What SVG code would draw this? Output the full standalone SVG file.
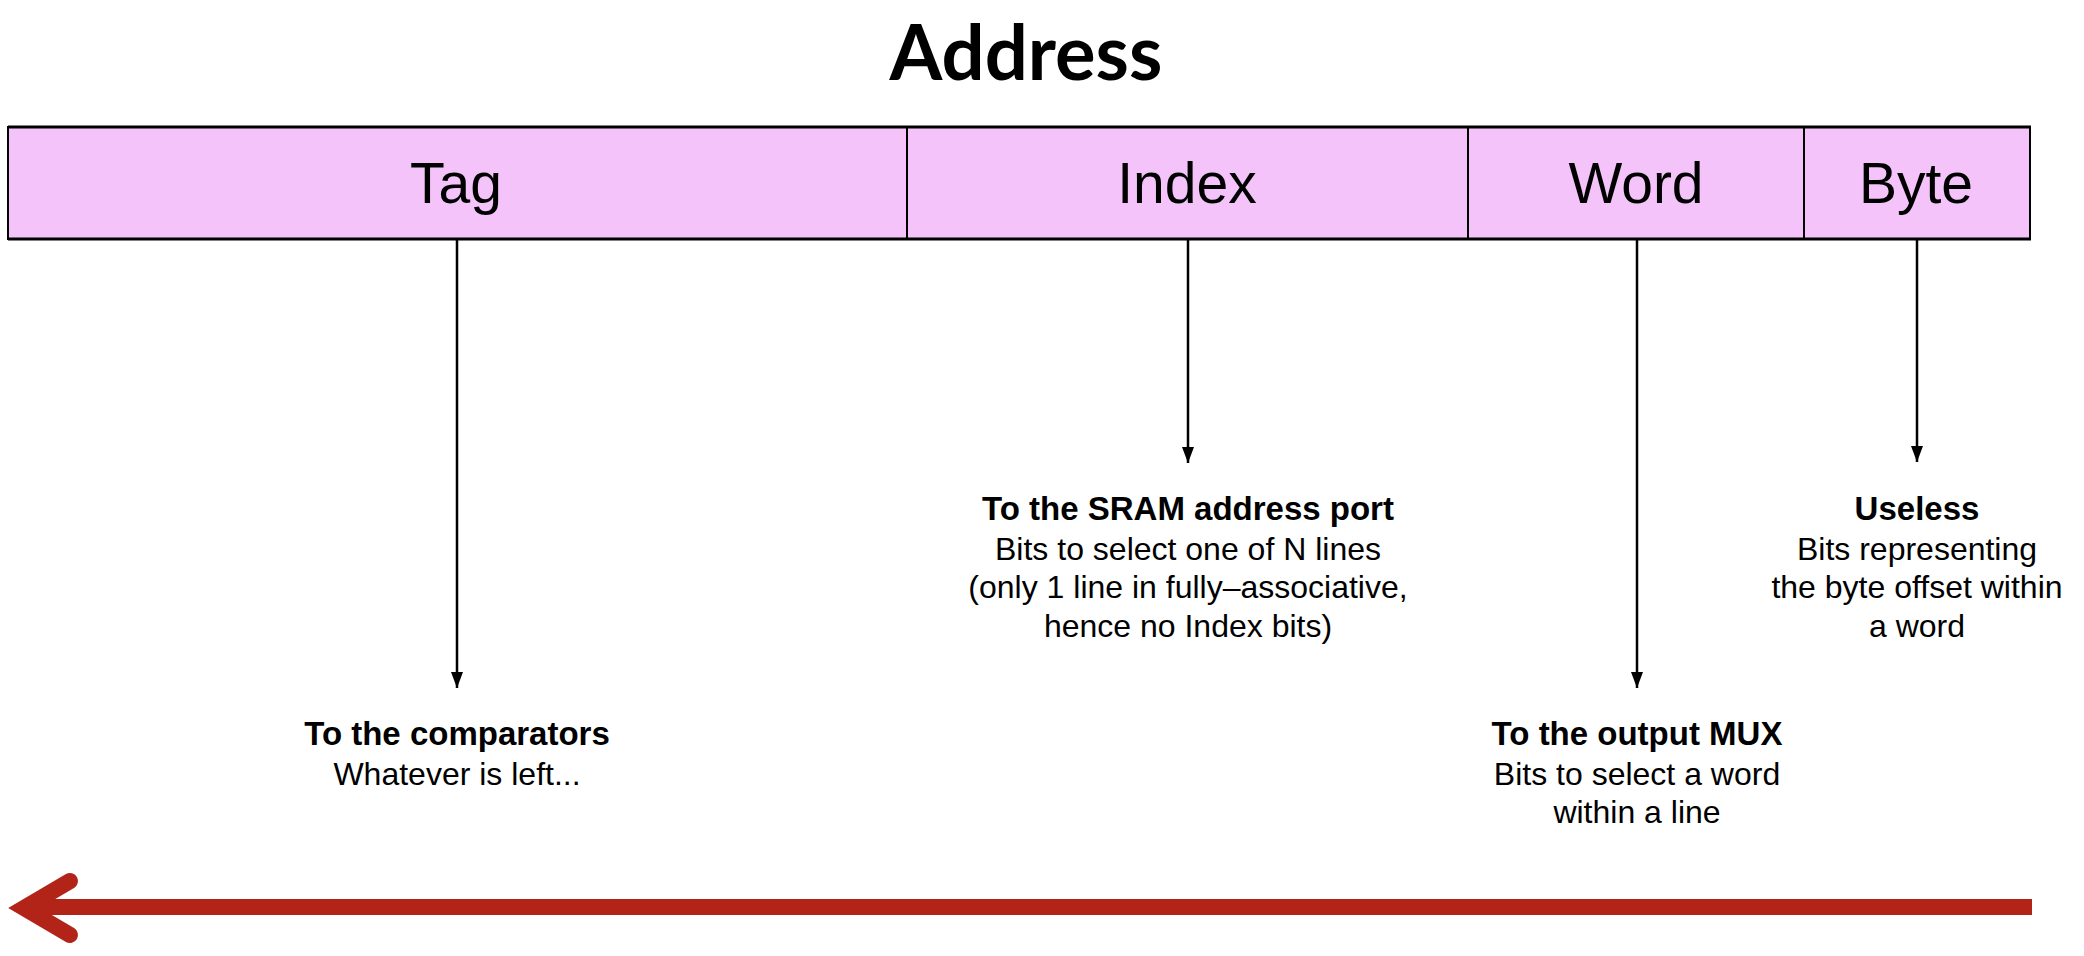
<svg xmlns="http://www.w3.org/2000/svg" width="2084" height="956" viewBox="0 0 2084 956">
<defs>
<style>
.field{fill:#F3C3F9;stroke:none}
.div{stroke:#000;stroke-width:2}
.lbl{font-family:"Liberation Sans",Arial,sans-serif;font-size:57px;fill:#000;text-anchor:middle}
.b{font-family:"Liberation Sans",Arial,sans-serif;font-size:33px;font-weight:bold;fill:#000;text-anchor:middle}
.r{font-family:"Liberation Sans",Arial,sans-serif;font-size:32px;fill:#000;text-anchor:middle}
.conn{stroke:#000;stroke-width:2.5;fill:none}
.title{font-family:Lato,"Open Sans",sans-serif;font-size:76px;font-weight:bold;fill:#000;text-anchor:middle}
</style>
<marker id="ah" markerUnits="userSpaceOnUse" markerWidth="18" markerHeight="14" refX="16" refY="7" orient="auto" viewBox="0 0 18 14">
<path d="M0,1 L16,7 L0,13 Z" fill="#000"/>
</marker>
</defs>
<rect width="2084" height="956" fill="#fff"/>
<text class="title" x="1026" y="80">Address</text>
<g id="address">
<rect class="field" x="8" y="127" width="2022" height="112"/>
<line x1="8" y1="127" x2="2031" y2="127" stroke="#000" stroke-width="3"/>
<line x1="8" y1="239" x2="2031" y2="239" stroke="#000" stroke-width="3"/>
<line x1="8" y1="126" x2="8" y2="240" stroke="#000" stroke-width="2"/>
<line x1="2030" y1="126" x2="2030" y2="240" stroke="#000" stroke-width="2"/>
</g>
<g id="tag"><text class="lbl" x="456" y="203">Tag</text></g>
<g id="index"><line class="div" x1="907" y1="127" x2="907" y2="239"/><text class="lbl" x="1187" y="203">Index</text></g>
<g id="word"><line class="div" x1="1468" y1="127" x2="1468" y2="239"/><text class="lbl" x="1636" y="203">Word</text></g>
<g id="byte"><line class="div" x1="1804" y1="127" x2="1804" y2="239"/><text class="lbl" x="1916" y="203">Byte</text></g>
<g id="connectors">
<line x1="457" y1="240" x2="457" y2="688" class="conn" marker-end="url(#ah)"/>
<line x1="1188" y1="240" x2="1188" y2="463" class="conn" marker-end="url(#ah)"/>
<line x1="1637" y1="240" x2="1637" y2="688" class="conn" marker-end="url(#ah)"/>
<line x1="1917" y1="240" x2="1917" y2="462" class="conn" marker-end="url(#ah)"/>
</g>
<g id="comparators">
<text class="b" x="457" y="745">To the comparators</text>
<text class="r" x="457" y="785">Whatever is left...</text>
</g>
<g id="sram">
<text class="b" x="1188" y="520">To the SRAM address port</text>
<text class="r" x="1188" y="560">Bits to select one of N lines</text>
<text class="r" x="1188" y="598">(only 1 line in fully–associative,</text>
<text class="r" x="1188" y="637">hence no Index bits)</text>
</g>
<g id="mux">
<text class="b" x="1637" y="745">To the output MUX</text>
<text class="r" x="1637" y="785">Bits to select a word</text>
<text class="r" x="1637" y="823">within a line</text>
</g>
<g id="useless">
<text class="b" x="1917" y="520">Useless</text>
<text class="r" x="1917" y="560">Bits representing</text>
<text class="r" x="1917" y="598">the byte offset within</text>
<text class="r" x="1917" y="637">a word</text>
</g>
<g id="direction">
<rect x="30" y="899" width="2002" height="16" fill="#B22418"/>
<polyline points="70,881 24,908 70,935" fill="none" stroke="#B22418" stroke-width="16" stroke-linecap="round" stroke-linejoin="miter"/>
</g>
</svg>
